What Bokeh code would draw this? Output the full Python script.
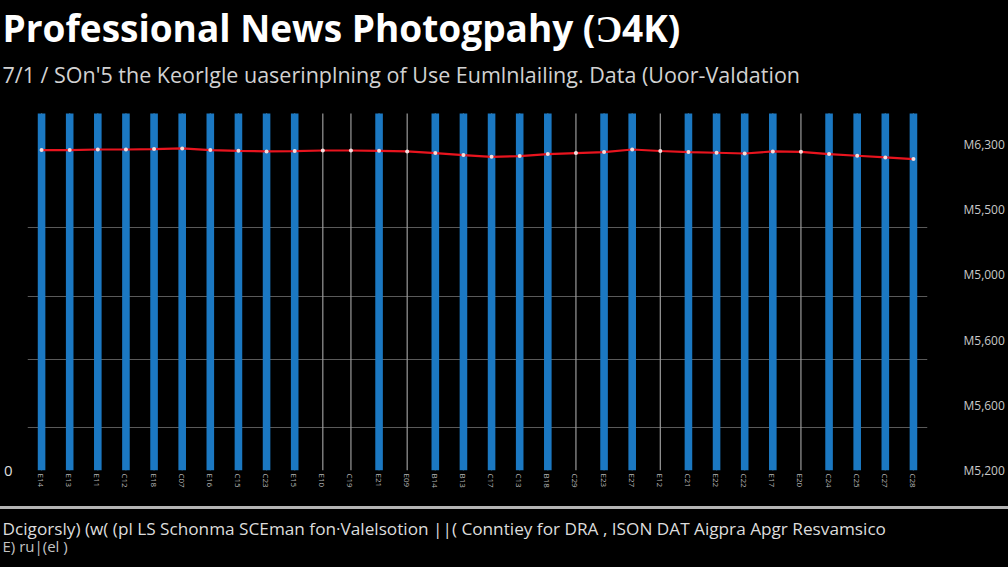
from bokeh.plotting import figure
from bokeh.models import (FactorRange, Range1d, LinearAxis, FixedTicker, Title, Div,
                          ColumnDataSource)
from bokeh.layouts import column
from bokeh.embed import file_html
from bokeh.resources import INLINE

# ---------------- data ----------------
title_text = "Professional News Photogpahy (\u01864K)"
subtitle_text = "7/1 / SOn'5 the Keorlgle uaserinplning of Use Eumlnlailing. Data (Uoor-Valdation"
footer_line1 = "Dcigorsly) (w( (pl LS Schonma SCEman fon\u00b7Valelsotion ||( Conntiey for DRA , ISON DAT Aigpra Apgr Resvamsico"
footer_line2 = "E) ru|(el )"

categories = ["E14", "E13", "E11", "C12", "E18", "C07", "E16", "C15", "C23", "E15", "E10",
              "C19", "E21", "E09", "B14", "B13", "C17", "C13", "B18", "C29", "E23", "E27",
              "E12", "C21", "E22", "C22", "E17", "E20", "C24", "C25", "C27", "C28"]

bar_values = [5.475, 5.475, 5.475, 5.475, 5.475, 5.475, 5.475, 5.475, 5.475, 5.475, None,
              None, 5.475, None, 5.475, 5.475, 5.475, 5.475, 5.475, None, 5.475, 5.475,
              None, 5.475, 5.475, 5.475, 5.475, None, 5.475, 5.475, 5.475, 5.475]

line_values = [4.914, 4.914, 4.923, 4.923, 4.929, 4.939, 4.914, 4.903, 4.893, 4.899, 4.908,
               4.908, 4.903, 4.893, 4.868, 4.837, 4.811, 4.822, 4.853, 4.868, 4.883, 4.923,
               4.900, 4.883, 4.873, 4.862, 4.893, 4.888, 4.853, 4.827, 4.801, 4.776]

stem_top = 5.475

y_ticks = [0, 1, 2, 3, 4, 5]
y_tick_labels = ["M5,200", "M5,600", "M5,600", "M5,000", "M5,500", "M6,300"]
grid_ticks = [0.66, 1.70, 2.67, 3.73]
left_ticks = [0]
left_tick_labels = ["0"]

# ---------------- styles ----------------
BG = "#000000"
BLUE = "#1b78c2"
RED = "#e8141e"
FONT = "Open Sans"

bar_src = ColumnDataSource(dict(
    x=categories,
    top=[float("nan") if v is None else v for v in bar_values],
))
line_src = ColumnDataSource(dict(x=categories, y=line_values))

p = figure(
    x_range=FactorRange(factors=categories, range_padding=0),
    y_range=Range1d(0, 5.506),
    frame_width=900, frame_height=359,
    output_backend="svg", toolbar_location=None,
    background_fill_color=BG, border_fill_color=BG,
    outline_line_color=None,
    y_axis_location="right",
    min_border_left=25, min_border_right=83, min_border_top=111, min_border_bottom=36,
    title=None,
)

p.add_layout(Title(text=subtitle_text, text_font=FONT, text_font_size="21.5px",
                   text_font_style="normal", text_color="#d2d2d2", align="left",
                   offset=-25, standoff=46), "above")
p.add_layout(Title(text=title_text, text_font=FONT, text_font_size="37px",
                   text_font_style="bold", text_color="#ffffff", align="left",
                   offset=-25, standoff=-36), "above")

# grid
p.xgrid.visible = False
p.ygrid.ticker = FixedTicker(ticks=grid_ticks)
p.ygrid.grid_line_color = "#5a5a5a"
p.ygrid.grid_line_width = 1.2

# thin stems at every category (visible where no bar)
p.segment(x0="x", y0=0, x1="x", y1=stem_top, source=line_src,
          line_color="#9a9a9a", line_width=1.2)

# bars
p.vbar(x="x", top="top", bottom=0, width=0.27, source=bar_src,
       fill_color=BLUE, line_color=None)

# line
p.line(x="x", y="y", source=line_src, line_color=RED, line_width=2.2)
p.scatter(x="x", y="y", source=line_src, size=4, fill_color="#f4dede",
          line_color=None)

# x axis
xa = p.xaxis[0]
xa.axis_line_color = None
xa.major_tick_line_color = None
xa.major_tick_out = 0
xa.major_tick_in = 0
xa.minor_tick_line_color = None
xa.major_label_orientation = "vertical"
xa.major_label_text_font = FONT
xa.major_label_text_font_size = "8px"
xa.major_label_text_color = "#b8b8b8"
xa.major_label_standoff = 3

# right y axis
ya = p.yaxis[0]
ya.ticker = FixedTicker(ticks=y_ticks)
ya.major_label_overrides = {t: l for t, l in zip(y_ticks, y_tick_labels)}
ya.axis_line_color = None
ya.major_tick_line_color = None
ya.major_tick_out = 0
ya.major_tick_in = 0
ya.minor_tick_line_color = None
ya.major_label_text_font = FONT
ya.major_label_text_font_size = "12px"
ya.major_label_text_color = "#c8c8c8"
ya.major_label_standoff = 36

# left axis showing only zero
la = LinearAxis(ticker=FixedTicker(ticks=left_ticks),
                major_label_overrides={t: l for t, l in zip(left_ticks, left_tick_labels)})
la.axis_line_color = None
la.major_tick_line_color = None
la.major_tick_out = 0
la.major_tick_in = 0
la.minor_tick_line_color = None
la.major_label_text_font = FONT
la.major_label_text_font_size = "15px"
la.major_label_text_color = "#dddddd"
la.major_label_standoff = 15
p.add_layout(la, "left")

# separator line
sep = Div(text="", width=1008, height=3, margin=0,
          styles={"background-color": "#b4b4b4"})

# footer
f = figure(width=1008, height=55, x_range=Range1d(0, 1), y_range=Range1d(0, 1),
           output_backend="svg", toolbar_location=None,
           background_fill_color=BG, border_fill_color=BG, outline_line_color=None,
           min_border_left=25, min_border_right=83, min_border_top=46, min_border_bottom=0,
           x_axis_type=None, y_axis_type=None, title=None)
f.grid.visible = False
f.add_layout(Title(text=footer_line2, text_font=FONT, text_font_size="15px",
                   text_font_style="normal", text_color="#c4c4c4", align="left",
                   offset=-25, standoff=0), "above")
f.add_layout(Title(text=footer_line1, text_font=FONT, text_font_size="17.2px",
                   text_font_style="normal", text_color="#dcdcdc", align="left",
                   offset=-25, standoff=-13), "above")

layout = column(p, sep, f, spacing=0, styles={"background-color": BG})

html = file_html(layout, INLINE)
html = html.replace("<body>", '<body style="background-color:#000000;">')
open("out.html", "w").write(html)
